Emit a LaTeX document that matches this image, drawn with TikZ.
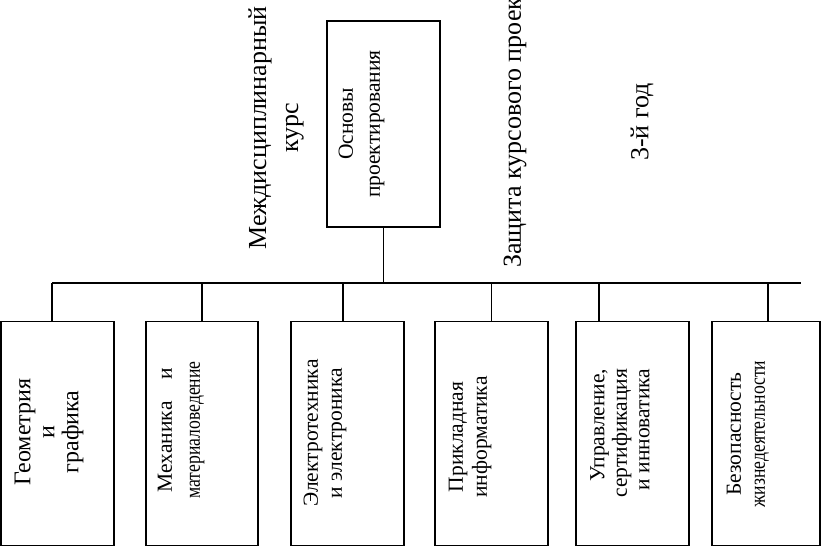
\documentclass[tikz,border=0pt]{standalone}
\usepackage{fontspec}
\setmainfont{Liberation Serif}

\newcommand{\squeezed}[1]{\scalebox{0.82}[1]{#1}}

\begin{document}
\begin{tikzpicture}[x=1pt, y=-1pt,
  subj/.style={draw, line width=1.4pt, minimum width=113pt, minimum height=224pt, inner sep=0pt},
  subjtext/.style={rotate=90, align=center, font=\fontsize{21.5}{24}\selectfont, inner sep=0pt},
  biglabel/.style={rotate=90, align=center, font=\fontsize{26}{32}\selectfont, inner sep=0pt},
  link/.style={line width=1.4pt}]
  \useasboundingbox (0,0) rectangle (825,547);

  % top block
  \node[subj, minimum height=206pt] (top) at (383.5,124) {};
  \node[subjtext, font=\fontsize{21.5}{27}\selectfont] (toptext) at (361.5,124) {Основы\\проектирования};

  % labels
  \node[biglabel] (course) at (276,128) {Междисциплинарный\\курс};
  \node[biglabel, anchor=west] (defence) at (515,268) {Защита курсового проекта};
  \node[biglabel] (year) at (642,122) {3-й год};

  % subjects
  \node[subj, minimum width=113pt] (b1) at (57.5,433.5) {};
  \node[subj, minimum width=112pt] (b2) at (202,433.5) {};
  \node[subj] (b3) at (347.5,433.5) {};
  \node[subj] (b4) at (491.5,433.5) {};
  \node[subj] (b5) at (632.5,433.5) {};
  \node[subj, minimum width=108pt] (b6) at (766,433.5) {};

  \node[subjtext, font=\fontsize{24}{24}\selectfont] (t1) at (49,432) {Геометрия\\и\\графика};
  \node[subjtext, font=\fontsize{21.5}{28}\selectfont] (t2) at (181,430) {Механика\hspace{22pt}и\\\squeezed{материаловедение}};
  \node[subjtext] (t3) at (325,433) {Электротехника\\и электроника};
  \node[subjtext] (t4) at (470,437) {Прикладная\\информатика};
  \node[subjtext, align=right, font=\fontsize{21.5}{22.5}\selectfont] (t5) at (620,433) {Управление,\\сертификация\\и инноватика};
  \node[subjtext] (t6) at (748,434) {Безопасность\\\squeezed{жизнедеятельности}};

  % bus
  \coordinate (busL) at (52,283);
  \coordinate (busR) at (801,283);
  \draw[link] (busL) -- (busR);
  \draw[link] (top.south) -- (top.south |- busL);
  \draw[link] ([xshift=-5.5pt]b1.north) -- ([xshift=-5.5pt]b1.north |- busL);
  \draw[link] (b2.north) -- (b2.north |- busL);
  \draw[link] ([xshift=-4.5pt]b3.north) -- ([xshift=-4.5pt]b3.north |- busL);
  \draw[link] (b4.north) -- (b4.north |- busL);
  \draw[link] ([xshift=-33.5pt]b5.north) -- ([xshift=-33.5pt]b5.north |- busL);
  \draw[link] ([xshift=2pt]b6.north) -- ([xshift=2pt]b6.north |- busL);
\end{tikzpicture}
\end{document}
